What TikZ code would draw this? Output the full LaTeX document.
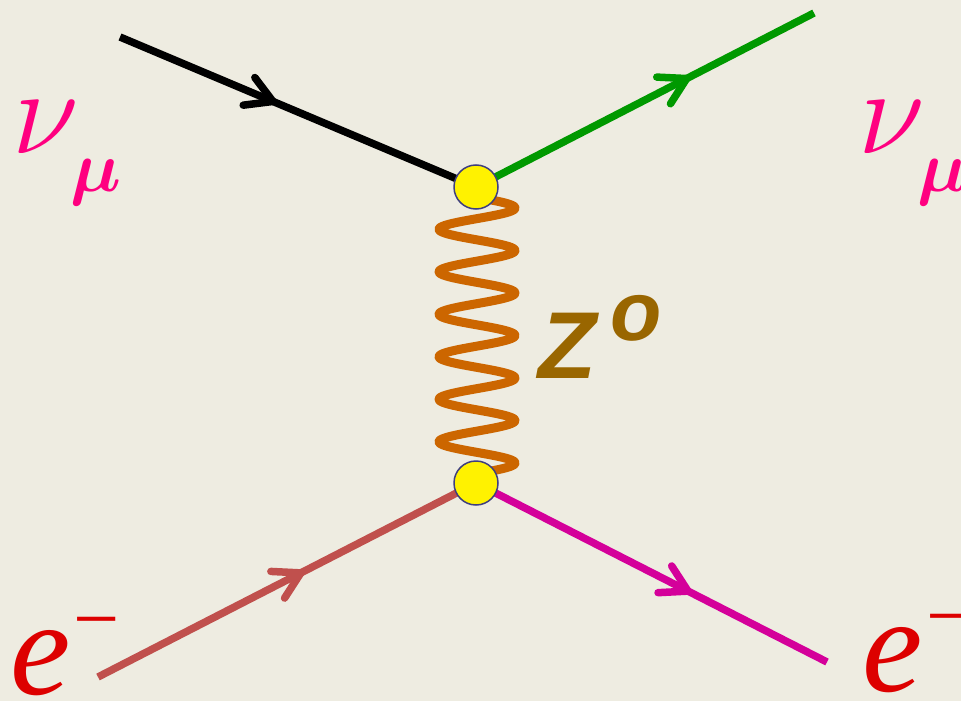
\RequirePackage{fix-cm}
\documentclass[tikz,border=0pt]{standalone}
\usepackage{fontspec}
\setmainfont{Liberation Serif}
\newfontfamily\zfont{Liberation Sans}
\usetikzlibrary{decorations.markings}
\definecolor{bg}{HTML}{EEECE1}
\definecolor{grn}{HTML}{009900}
\definecolor{rdl}{HTML}{C0504D}
\definecolor{mgt}{HTML}{D4009A}
\definecolor{coilc}{HTML}{CC6600}
\definecolor{zcol}{HTML}{996600}
\definecolor{nucol}{HTML}{FF0080}
\definecolor{ecol}{HTML}{DD0000}
\definecolor{vborder}{HTML}{3F3F7F}
\tikzset{
  fermion/.style={line width=7.5pt, line cap=butt},
  arrowmark/.style={postaction={decorate}, decoration={markings,
    mark=at position #1 with {\draw[line cap=round, line join=round] (-26pt,15pt) -- (0pt,0pt) -- (-26pt,-15pt);}}},
  coil/.style={coilc, line width=9pt, line cap=round, line join=round},
  vertex/.style={circle, minimum size=44pt, inner sep=0pt, fill=yellow, draw=vborder, line width=1.5pt},
  lab/.style={inner sep=0pt, anchor=base west},
}
\begin{document}
\begin{tikzpicture}[x=1pt,y=-1pt]
\fill[bg] (0,0) rectangle (961,701);
\useasboundingbox (0,0) rectangle (961,701);
\coordinate (v1) at (476,187);
\coordinate (v2) at (476,483);
\coordinate (a) at (120,37);
\coordinate (b) at (814,13);
\coordinate (c) at (98,677);
\coordinate (d) at (827,662);
\draw[fermion, black, arrowmark=166pt] (a) -- (v1);
\draw[fermion, grn, arrowmark=237pt] (v1) -- (b);
\draw[fermion, rdl, arrowmark=228pt] (c) -- (v2);
\draw[fermion, mgt, arrowmark=238pt] (v2) -- (d);
\draw[coil] plot[domain=199:473, samples=300, smooth] ({477+38*cos(8.4706*(\x-208))}, \x);
\node[vertex] (vtop) at (v1) {};
\node[vertex] (vbot) at (v2) {};
% labels
\node[lab, nucol, font=\fontsize{122}{122}\selectfont] (nul) at (12,153) {$\nu$};
\node[lab, nucol, font=\boldmath\fontsize{72}{72}\selectfont] (mul) at (70,191) {$\mu$};
\node[lab, nucol, font=\fontsize{122}{122}\selectfont] (nur) at (858,153) {$\nu$};
\node[lab, nucol, font=\boldmath\fontsize{72}{72}\selectfont] (mur) at (917,191) {$\mu$};
\node[lab, zcol, font=\zfont\bfseries\itshape\fontsize{95}{95}\selectfont] (z) at (538,378) {Z};
\node[lab, zcol, font=\zfont\bfseries\itshape\fontsize{84}{84}\selectfont] (zo) at (610,340) {o};
\node[lab, ecol, font=\itshape\fontsize{136}{136}\selectfont] (el) at (10,694) {e};
\node[lab, ecol, font=\fontsize{82}{82}\selectfont] (eml) at (73,646) {−};
\node[lab, ecol, font=\itshape\fontsize{136}{136}\selectfont] (er) at (862,691) {e};
\node[lab, ecol, font=\fontsize{82}{82}\selectfont] (emr) at (926,643) {−};
\end{tikzpicture}
\end{document}
